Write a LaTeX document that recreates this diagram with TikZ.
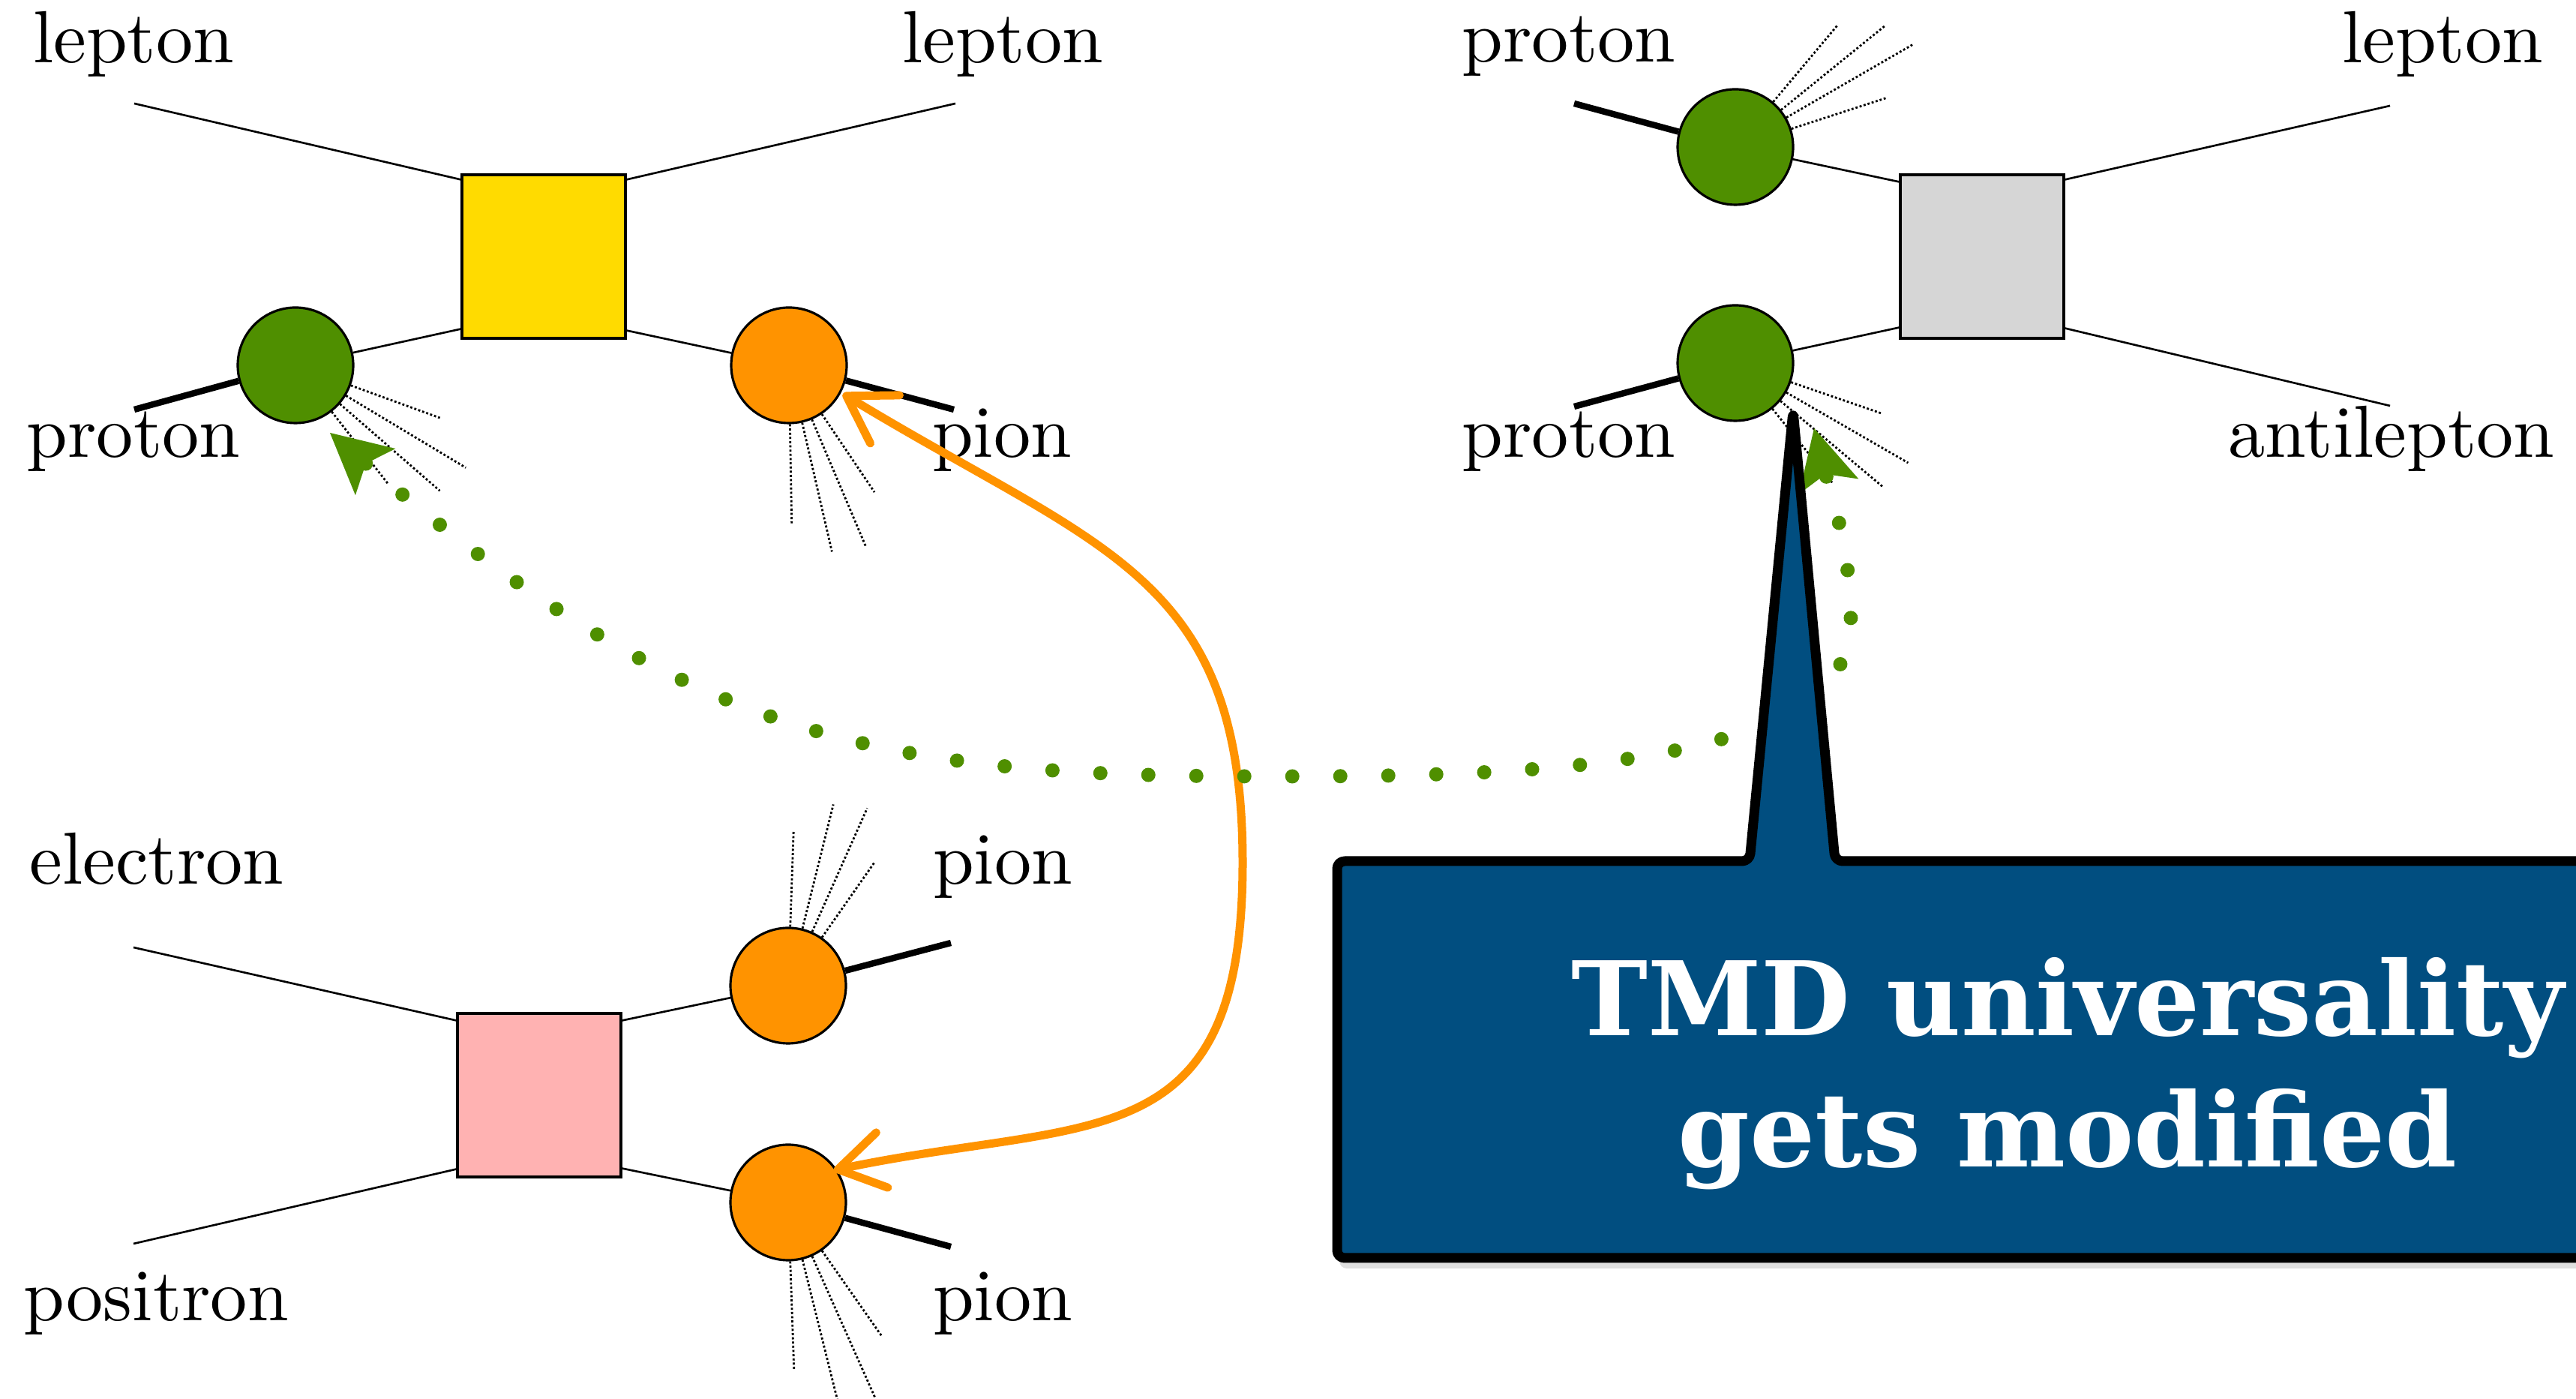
\documentclass[tikz,border=0pt]{standalone}
\usepackage{fontspec}
\usepackage{tikz}
\usetikzlibrary{arrows.meta,shadows}
\newfontfamily\callfont{DejaVu Serif}
\newfontfamily\lblfont{lmroman10-regular}[Extension=.otf]
\definecolor{boxyellow}{RGB}{255,219,0}
\definecolor{boxgrey}{RGB}{214,214,214}
\definecolor{boxpink}{RGB}{255,178,178}
\definecolor{blobgreen}{RGB}{79,143,0}
\definecolor{bloborange}{RGB}{255,147,0}
\definecolor{calloutblue}{RGB}{1,78,128}

\begin{document}
\begin{tikzpicture}[
  hardbox/.style={draw, line width=0.9pt, minimum width=2.18cm, minimum height=2.18cm, inner sep=0pt},
  blob/.style={circle, draw, line width=0.9pt, minimum size=1.54cm, inner sep=0pt},
  leg/.style={line width=0.75pt},
  hadron/.style={line width=2.4pt},
  spray/.style={line width=0.8pt, dash pattern=on 0.8pt off 0.8pt},
  lbl/.style={font=\lblfont\fontsize{28}{34}\selectfont, anchor=base, inner sep=0pt},
  greenlink/.style={draw=blobgreen, line width=0.19cm, line cap=round, dash pattern=on 0pt off 0.64cm,
    arrows={Stealth[length=8mm, width=8.2mm, inset=1.7mm, line width=0pt]-Stealth[length=8mm, width=8.2mm, inset=1.7mm, line width=0pt]}},
  orangelink/.style={draw=bloborange, line width=0.11cm, line cap=round, line join=round,
    arrows={Straight Barb[length=6mm, width=7.5mm, round]-Straight Barb[length=6mm, width=7.5mm, round]}},
  callout/.style={draw, line width=0.13cm, fill=calloutblue, line join=round, rounded corners=0.1cm,
    drop shadow={shadow xshift=0.03cm, shadow yshift=-0.14cm, opacity=0.25}}
]
  \useasboundingbox (0,0) rectangle (34.35,18.65);
  \clip (0,0) rectangle (34.35,18.65);

  % lepton-proton scattering
  \node[hardbox, fill=boxyellow] (sidis) at (7.25,15.23) {};
  \node[blob, fill=blobgreen] (sidisP) at (3.94,13.78) {};
  \node[blob, fill=bloborange] (sidisPi) at (10.52,13.78) {};
  \coordinate (sidisLin) at (1.79,17.27);
  \coordinate (sidisLout) at (12.74,17.27);
  \coordinate (sidisH1) at (1.79,13.19);
  \coordinate (sidisH2) at (12.72,13.19);
  \draw[leg] (sidisLin) -- ([yshift=-0.08cm]sidis.north west);
  \draw[leg] ([yshift=-0.08cm]sidis.north east) -- (sidisLout);
  \draw[leg] ([yshift=0.14cm]sidis.south west) -- (sidisP);
  \draw[leg] ([yshift=0.12cm]sidis.south east) -- (sidisPi);
  \draw[hadron] (sidisH1) -- (sidisP);
  \draw[hadron] (sidisPi) -- (sidisH2);
  \foreach \a/\l in {340/2.05, 329/2.65, 319/2.55, 308/2.0}
    \draw[spray] (sidisP.\a) -- ([shift={(\a:\l)}]sidisP.center);
  \foreach \a/\l in {304/2.04, 293/2.64, 283/2.55, 271/2.12}
    \draw[spray] (sidisPi.\a) -- ([shift={(\a:\l)}]sidisPi.center);
  \node[lbl] at (1.78,17.81) {lepton};
  \node[lbl] at (13.37,17.81) {lepton};
  \node[lbl] at (1.78,12.55) {proton};
  \node[lbl] at (13.36,12.55) {pion};

  % proton-proton annihilation
  \node[hardbox, fill=boxgrey] (dy) at (26.43,15.23) {};
  \node[blob, fill=blobgreen] (dyP1) at (23.14,16.69) {};
  \node[blob, fill=blobgreen] (dyP2) at (23.14,13.81) {};
  \coordinate (dyQ1) at (20.99,17.27);
  \coordinate (dyQ2) at (20.99,13.23);
  \coordinate (dyL1) at (31.87,17.24);
  \coordinate (dyL2) at (31.87,13.24);
  \draw[hadron] (dyQ1) -- (dyP1);
  \draw[hadron] (dyQ2) -- (dyP2);
  \draw[leg] (dyP1) -- ([yshift=-0.11cm]dy.north west);
  \draw[leg] (dyP2) -- ([yshift=0.16cm]dy.south west);
  \draw[leg] ([yshift=-0.08cm]dy.north east) -- (dyL1);
  \draw[leg] ([yshift=0.15cm]dy.south east) -- (dyL2);
  \foreach \a/\l in {18/2.13, 30/2.73, 39/2.57, 50/2.13}
    \draw[spray] (dyP1.\a) -- ([shift={(\a:\l)}]dyP1.center);
  \foreach \a/\l in {341/2.07, 330/2.66, 320/2.58, 309/2.05}
    \draw[spray] (dyP2.\a) -- ([shift={(\a:\l)}]dyP2.center);
  \node[lbl] at (20.92,17.82) {proton};
  \node[lbl] at (32.57,17.81) {lepton};
  \node[lbl] at (20.92,12.55) {proton};
  \node[lbl] at (31.89,12.55) {antilepton};

  % electron-positron annihilation
  \node[hardbox, fill=boxpink] (ee) at (7.19,4.05) {};
  \node[blob, fill=bloborange] (eePi1) at (10.51,5.51) {};
  \node[blob, fill=bloborange] (eePi2) at (10.51,2.62) {};
  \coordinate (eeE) at (1.78,6.02);
  \coordinate (eeEbar) at (1.78,2.07);
  \coordinate (eeH1) at (12.68,6.08);
  \coordinate (eeH2) at (12.68,2.03);
  \draw[leg] (eeE) -- ([yshift=-0.11cm]ee.north west);
  \draw[leg] (eeEbar) -- ([yshift=0.12cm]ee.south west);
  \draw[leg] ([yshift=-0.11cm]ee.north east) -- (eePi1);
  \draw[leg] ([yshift=0.13cm]ee.south east) -- (eePi2);
  \draw[hadron] (eePi1) -- (eeH1);
  \draw[hadron] (eePi2) -- (eeH2);
  \foreach \a/\l in {55/2.01, 66/2.59, 76/2.49, 88/2.06}
    \draw[spray] (eePi1.\a) -- ([shift={(\a:\l)}]eePi1.center);
  \foreach \a/\l in {305/2.17, 294/2.85, 284/2.75, 272/2.24}
    \draw[spray] (eePi2.\a) -- ([shift={(\a:\l)}]eePi2.center);
  \node[lbl] at (2.09,6.86) {electron};
  \node[lbl] at (2.08,1.04) {positron};
  \node[lbl] at (13.37,6.86) {pion};
  \node[lbl] at (13.37,1.04) {pion};

  % links between the processes
  \coordinate (tipA) at (11.24,13.40);
  \coordinate (tipB) at (11.12,3.05);
  \draw[orangelink] (tipA) .. controls (14.70,11.30) and (16.57,11.00) .. (16.57,7.15)
    .. controls (16.57,3.15) and (14.54,3.77) .. (tipB);
  \coordinate (tipP) at (4.40,12.88);
  \coordinate (tipQ) at (24.19,12.94);
  \draw[greenlink] (tipP) .. controls (9.33,8.64) and (12.00,8.30) .. (17.00,8.30)
    .. controls (20.00,8.30) and (24.68,8.35) .. (24.68,10.35)
    .. controls (24.68,11.35) and (24.41,12.07) .. (tipQ);

  % callout
  \path[callout] (17.83,4.5) -- (17.83,7.17) -- (23.33,7.17) -- (23.91,13.17) -- (24.47,7.17)
    -- (34.8,7.17) -- (34.8,1.88) -- (17.83,1.88) -- cycle;
  \node[font=\callfont\fontsize{39}{49.8}\selectfont\bfseries, text=white, align=center, anchor=base, inner sep=0pt]
    (msg) at (27.57,3.09) {TMD universality\\gets modified};
\end{tikzpicture}
\end{document}
